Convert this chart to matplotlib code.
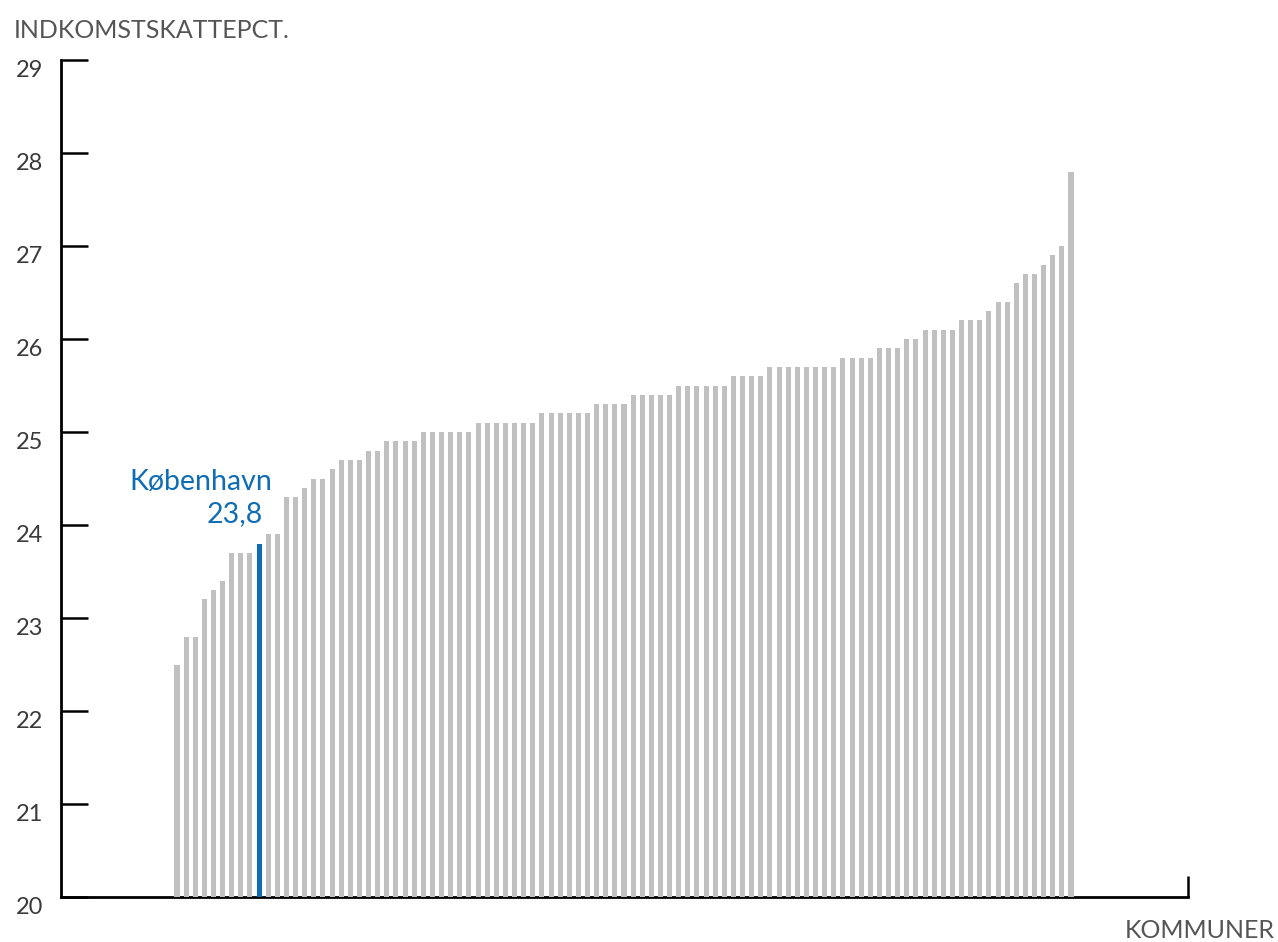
import matplotlib
matplotlib.use('Agg')
import matplotlib.pyplot as plt
import numpy as np

plt.rcParams['font.family'] = ['Lato', 'DejaVu Sans']

# income tax percentage per municipality, sorted
values = [22.5, 22.8, 22.8, 23.2, 23.3, 23.4, 23.7, 23.7, 23.7, 23.8,
          23.9, 23.9, 24.3, 24.3, 24.4, 24.5, 24.5, 24.6, 24.7, 24.7,
          24.7, 24.8, 24.8, 24.9, 24.9, 24.9, 24.9,
          25.0, 25.0, 25.0, 25.0, 25.0, 25.0,
          25.1, 25.1, 25.1, 25.1, 25.1, 25.1, 25.1,
          25.2, 25.2, 25.2, 25.2, 25.2, 25.2,
          25.3, 25.3, 25.3, 25.3,
          25.4, 25.4, 25.4, 25.4, 25.4,
          25.5, 25.5, 25.5, 25.5, 25.5, 25.5,
          25.6, 25.6, 25.6, 25.6,
          25.7, 25.7, 25.7, 25.7, 25.7, 25.7, 25.7, 25.7,
          25.8, 25.8, 25.8, 25.8,
          25.9, 25.9, 25.9,
          26.0, 26.0,
          26.1, 26.1, 26.1, 26.1,
          26.2, 26.2, 26.2,
          26.3, 26.4, 26.4, 26.6, 26.7, 26.7, 26.8, 26.9, 27.0, 27.8]
highlight = 9  # København
highlight_name = 'København'
highlight_label = '23,8'
yticks = list(range(20, 30))

gray = '#c0c0c0'
blue = '#0f6db5'
text_gray = '#555555'

fig = plt.figure(figsize=(12.78, 9.42), dpi=100)
ax = fig.add_axes([61/1278, 1 - 897/942, (1188 - 61)/1278, (897 - 60)/942])

x = np.arange(len(values))
colors = [blue if i == highlight else gray for i in range(len(values))]
ax.bar(x, np.array(values) - 20, bottom=20, width=0.55, color=colors, zorder=3)

step = (1071 - 177) / (len(values) - 1)
xmin = (61 - 177) / step
xmax = (1188 - 177) / step
ax.set_xlim(xmin, xmax)
ax.set_ylim(20, 29)

for s in ['top', 'right']:
    ax.spines[s].set_visible(False)
for s in ['left', 'bottom']:
    ax.spines[s].set_linewidth(2)
    ax.spines[s].set_color('black')
    ax.spines[s].set_capstyle('projecting')

ax.set_yticks(yticks)
ax.set_yticklabels([str(v) for v in yticks])
ax.tick_params(axis='y', direction='in', length=19.5, width=1.8, pad=13,
               labelsize=17, labelcolor='#3a3a3a')
for lab in ax.get_yticklabels():
    lab.set_verticalalignment('top')

ax.set_xticks([xmax])
ax.set_xticklabels([''])
ax.tick_params(axis='x', direction='in', length=15, width=1.8)

ax.text(highlight + 1.45, 24.38, highlight_name, color=blue, fontsize=20.5,
        ha='right', va='baseline')
ax.text(highlight + 0.4, 24.03, highlight_label, color=blue, fontsize=20.5,
        ha='right', va='baseline')

fig.text(14/1278, 1 - 30/942, 'INDKOMSTSKATTEPCT.', color=text_gray,
         fontsize=18, ha='left', va='center')
fig.text(1275/1278, 1 - 930/942, 'KOMMUNER', color=text_gray,
         fontsize=18, ha='right', va='center')

fig.savefig('out.png', dpi=100)
